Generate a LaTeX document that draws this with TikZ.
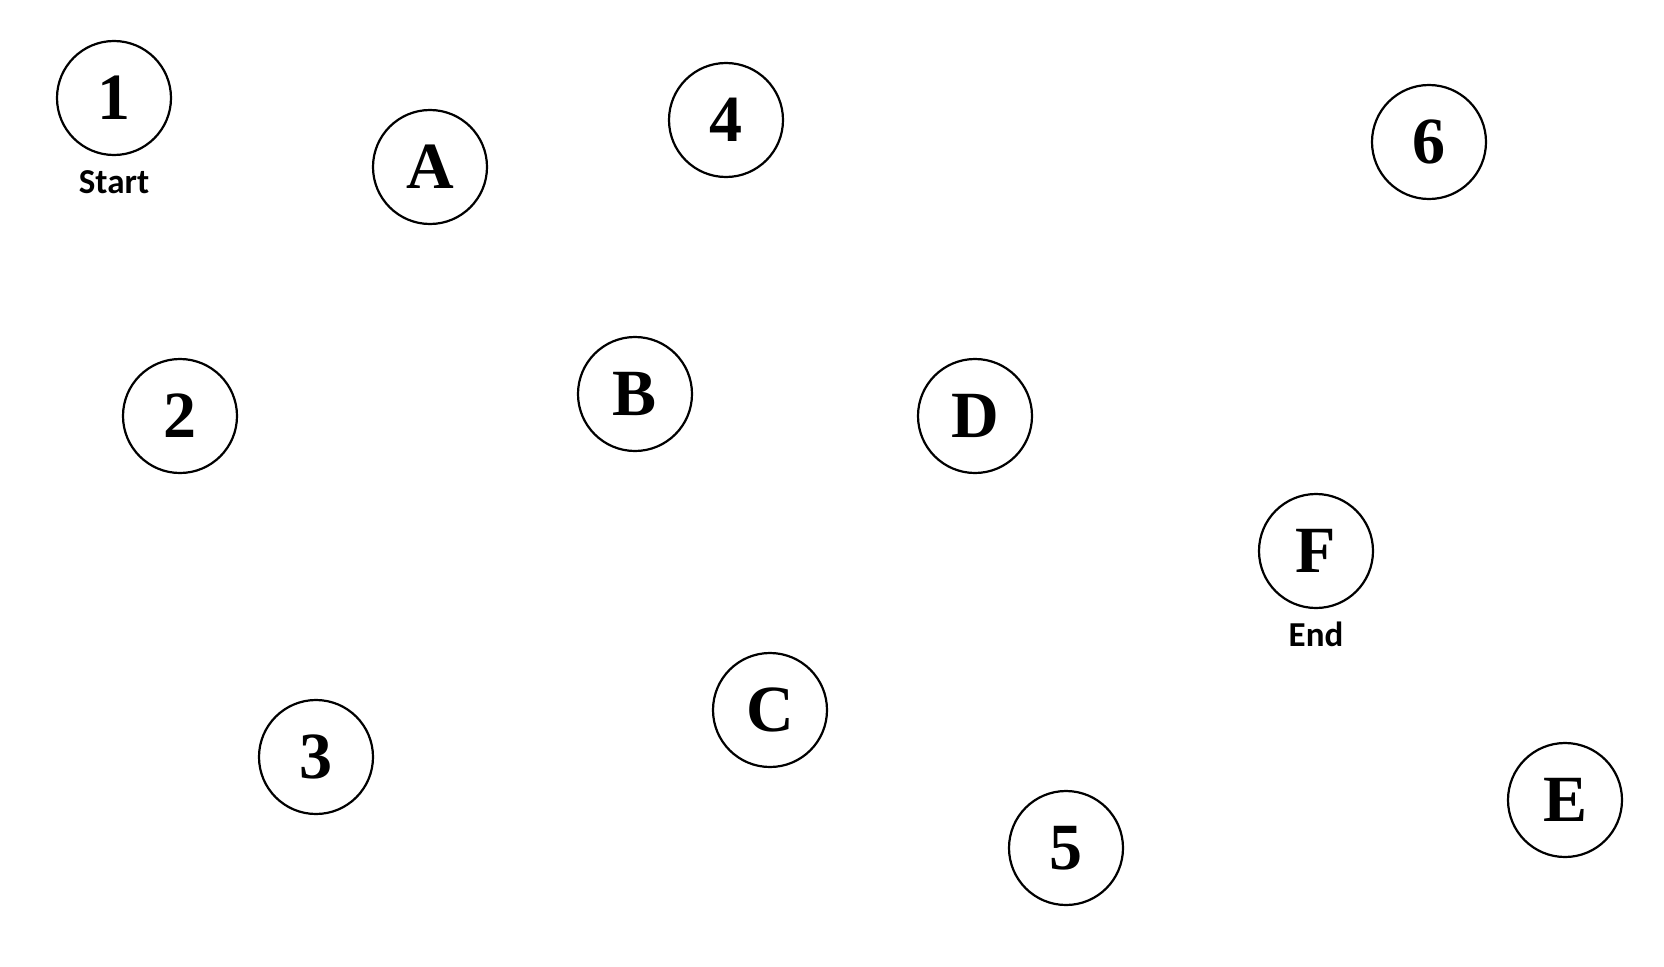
\documentclass[tikz,border=0pt]{standalone}
\usepackage{fontspec}
\setmainfont{Liberation Serif}
\newfontfamily\capfont{Carlito}
\begin{document}
\begin{tikzpicture}[x=1pt,y=-1pt,
  st/.style={circle,draw,line width=2.2pt,minimum size=114pt,inner sep=0pt,
    font=\fontsize{66}{66}\selectfont\bfseries},
  caplabel/.style={font=\capfont\fontsize{35}{35}\selectfont\bfseries,inner sep=0pt}]
\useasboundingbox (0,0) rectangle (1664,966);
\node[st] (n1) at (114,98) {1};
\node[st] (nA) at (430,167) {A};
\node[st] (n4) at (726,120) {4};
\node[st] (n6) at (1429,142) {6};
\node[st] (n2) at (180,416) {2};
\node[st] (nB) at (635,394) {B};
\node[st] (nD) at (975,416) {D};
\node[st] (nF) at (1316,551) {F};
\node[st] (nC) at (770,710) {C};
\node[st] (n3) at (316,757) {3};
\node[st] (n5) at (1066,848) {5};
\node[st] (nE) at (1565,800) {E};
\node[caplabel,anchor=base] (start) at (114,193) {Start};
\node[caplabel,anchor=base] (end) at (1316,646) {End};
\end{tikzpicture}
\end{document}
